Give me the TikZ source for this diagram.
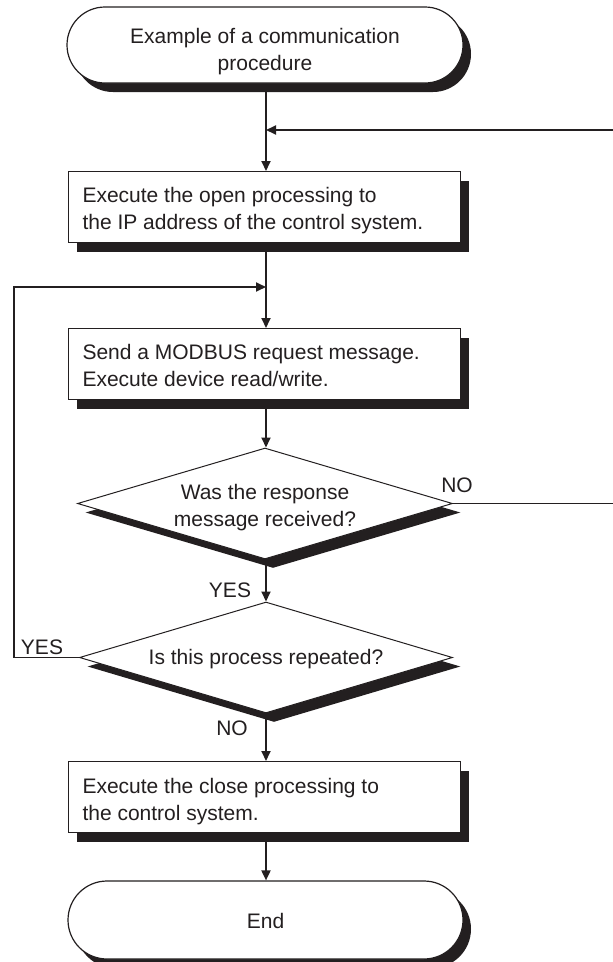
\documentclass[tikz,border=0pt]{standalone}
\usepackage{fontspec}
\setmainfont{Liberation Sans}
\usetikzlibrary{arrows.meta,shapes.geometric,shapes.misc,shadows}
\definecolor{ink}{HTML}{231F20}
% text block lowered by #1 while keeping its nominal size for centring
\newcommand{\dropc}[2]{\raisebox{-#1}[\height][\depth]{\begin{tabular}{@{}c@{}}#2\end{tabular}}}
\newcommand{\dropl}[2]{\makebox[364pt][l]{\raisebox{-#1}[\height][\depth]{\begin{tabular}{@{}l@{}}#2\end{tabular}}}}
\begin{document}
\begin{tikzpicture}[x=1pt,y=-1pt,
  every node/.style={font=\fontsize{21}{27}\selectfont, text=ink},
  shade/.style={drop shadow={shadow xshift=8pt, shadow yshift=-9pt, fill=ink, opacity=1}},
  term/.style={rounded rectangle, draw=ink, line width=1.2pt, fill=white, shade,
    minimum height=76pt, inner sep=0pt},
  stepbox/.style={rectangle, draw=ink, line width=1pt, fill=white, shade,
    minimum width=392pt, minimum height=71pt, inner xsep=14pt, inner ysep=0pt},
  decide/.style={diamond, aspect=3.38, draw=ink, line width=1pt, fill=white, shade,
    inner sep=0pt},
  conn/.style={draw=ink, line width=1.8pt},
  arr/.style={conn, -{Triangle[length=10pt,width=9pt]}},
  lbl/.style={inner sep=0pt}]
\useasboundingbox (0,0) rectangle (613,962);

% process chain
\node[term, minimum width=396pt] (start) at (265,45)
  {\dropc{7pt}{Example of a communication\\procedure}};
\node[stepbox] (open) at (264.5,207)
  {\dropl{4pt}{Execute the open processing to\\the IP address of the control system.}};
\node[stepbox] (send) at (264.5,364)
  {\dropl{4pt}{Send a MODBUS request message.\\Execute device read/write.}};
\node[decide, minimum width=375pt, minimum height=111pt] (resp) at (265,503.5)
  {\dropc{4pt}{Was the response\\message received?}};
\node[decide, minimum width=373pt, minimum height=111pt] (again) at (266,657.5)
  {\dropc{2pt}{Is this process repeated?}};
\node[stepbox] (close) at (264.5,797)
  {\dropl{4.5pt}{Execute the close processing to\\the control system.}};
\node[term, minimum width=395pt, minimum height=78pt] (stop) at (265.5,920)
  {\dropc{3pt}{End}};

% junctions of the return paths
\coordinate (joinA) at (266,130);
\coordinate (joinB) at (266,287);
\coordinate (edgeTop) at (613,130);
\coordinate (edgeBot) at (613,503.5);
\coordinate (leftRail) at (14,287);

% main flow
\draw[conn] (start.south -| joinA) -- (joinA);
\draw[arr] (joinA) -- (open.north -| joinA);
\draw[conn] (open.south -| joinB) -- (joinB);
\draw[arr] (joinB) -- (send.north -| joinB);
\draw[arr] (send.south -| joinB) -- (resp.north -| joinB);
\draw[arr] (resp.south -| joinB) -- (again.north -| joinB);
\draw[arr] (again.south -| joinB) -- (close.north -| joinB);
\draw[arr] (close.south -| joinB) -- (stop.north -| joinB);

% return paths
\draw[conn] (resp.east) -- (edgeBot);
\draw[arr] (edgeTop) -- (joinA);
\draw[arr] (again.west) -| (leftRail) -- (joinB);

% branch labels
\node[lbl] (yesDown) at (230,590) {YES};
\node[lbl] (yesBack) at (42,647) {YES};
\node[lbl] (noRight) at (457,485) {NO};
\node[lbl] (noDown) at (232,728) {NO};
\end{tikzpicture}
\end{document}
